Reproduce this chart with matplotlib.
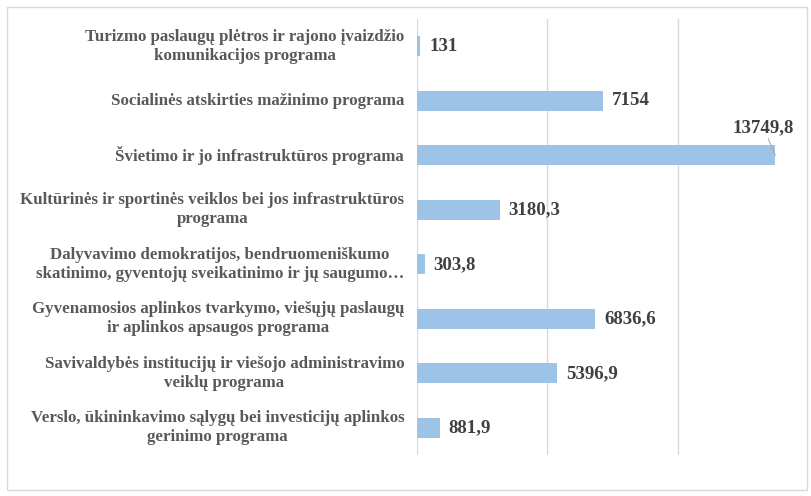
import matplotlib.pyplot as plt
from matplotlib.patches import Rectangle

programs = [
    "Turizmo paslaugų plėtros ir rajono įvaizdžio\nkomunikacijos programa",
    "Socialinės atskirties mažinimo programa",
    "Švietimo ir jo infrastruktūros programa",
    "Kultūrinės ir sportinės veiklos bei jos infrastruktūros\nprograma",
    "Dalyvavimo demokratijos, bendruomeniškumo\nskatinimo, gyventojų sveikatinimo ir jų saugumo…",
    "Gyvenamosios aplinkos tvarkymo, viešųjų paslaugų\nir aplinkos apsaugos programa",
    "Savivaldybės institucijų ir viešojo administravimo\nveiklų programa",
    "Verslo, ūkininkavimo sąlygų bei investicijų aplinkos\ngerinimo programa",
]
values = [131, 7154, 13749.8, 3180.3, 303.8, 6836.6, 5396.9, 881.9]
value_labels = ["131", "7154", "13749,8", "3180,3", "303,8", "6836,6", "5396,9", "881,9"]

plt.rcParams['font.family'] = ['Liberation Serif', 'DejaVu Serif']

fig = plt.figure(figsize=(8.12, 4.96), dpi=100)
ax = fig.add_axes([416.7/812, 1 - 455/496, (808 - 416.7)/812, (455 - 19)/496])

ypos = list(range(len(values)))
ax.barh(ypos, values, height=0.37, color='#9DC3E6', zorder=2)
ax.set_xlim(0, 15000)
ax.set_ylim(len(values) - 0.5, -0.5)
ax.set_xticks([0, 5000, 10000])
ax.set_xticklabels([])
ax.tick_params(axis='both', length=0)
ax.grid(axis='x', color='#d9d9d9', linewidth=1, zorder=0)
for s in ax.spines.values():
    s.set_visible(False)

ax.set_yticks(ypos)
ax.set_yticklabels([])
for y, lab in zip(ypos, programs):
    ax.annotate(lab, xy=(0, y), xytext=(-9, 0), textcoords='offset points',
                ha='right', va='center', multialignment='center',
                fontsize=12.2, fontweight='bold', color='#595959', linespacing=1.25)

for y, v, lab in zip(ypos, values, value_labels):
    if v > 10000:
        ax.annotate(lab, xy=(v, y), xytext=(-8.6, 20), textcoords='offset points',
                    ha='center', va='center', fontsize=13.6, fontweight='bold', color='#404040',
                    arrowprops=dict(arrowstyle='-', color='#a6a6a6', lw=0.7, shrinkA=0, shrinkB=0))
    else:
        ax.annotate(lab, xy=(v, y), xytext=(6.5, 0), textcoords='offset points',
                    ha='left', va='center', fontsize=13.6, fontweight='bold', color='#404040')

fig.patches.append(Rectangle((7/812, 1 - 490/496), 800/812, 483/496, transform=fig.transFigure,
                             fill=False, edgecolor='#d9d9d9', linewidth=1))

fig.savefig('out.png', dpi=100)
